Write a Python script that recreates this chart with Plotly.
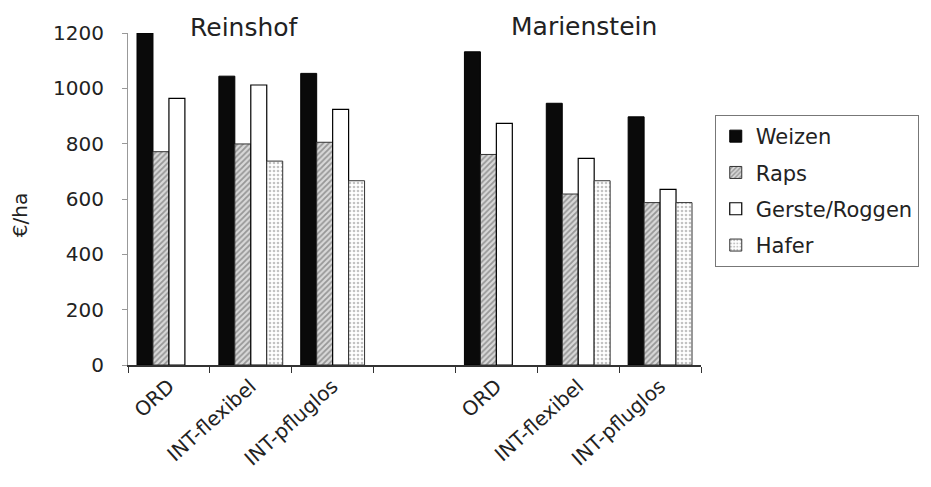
import plotly.graph_objects as go

categories = ["ORD", "INT-flexibel", "INT-pfluglos", " ", "ORD ", "INT-flexibel ", "INT-pfluglos "]
tick_labels = ["ORD", "INT-flexibel", "INT-pfluglos", "", "ORD", "INT-flexibel", "INT-pfluglos"]
weizen = [1200, 1044, 1054, None, 1132, 946, 897]
raps = [771, 799, 805, None, 761, 618, 587]
gerste = [964, 1012, 924, None, 873, 747, 635]
hafer = [None, 737, 666, None, None, 666, 587]
sites = ["Reinshof", "Marienstein"]
y_title = "€/ha"

FONT = "DejaVu Sans, Liberation Sans, Arial, sans-serif"

fig = go.Figure()
fig.add_trace(go.Bar(name="Weizen", x=categories, y=weizen, legendgroup="a",
                     marker=dict(color="#0a0a0a", line=dict(color="black", width=1))))
fig.add_trace(go.Bar(name="Raps", x=categories, y=raps, legendgroup="b",
                     marker=dict(color="white", line=dict(color="#333", width=1),
                                 pattern=dict(shape="/", fgcolor="#555", bgcolor="#d8d8d8",
                                              size=4, solidity=0.45))))
fig.add_trace(go.Bar(name="Gerste/Roggen", x=categories, y=gerste, legendgroup="c",
                     marker=dict(color="white", line=dict(color="black", width=1.2))))
fig.add_trace(go.Bar(name="Hafer", x=categories, y=hafer, legendgroup="d",
                     marker=dict(color="white", line=dict(color="#333", width=1),
                                 pattern=dict(shape=".", fgcolor="#888", bgcolor="white",
                                              size=4, solidity=0.35))))

fig.update_layout(
    width=923, height=479,
    margin=dict(l=120, r=228, t=25, b=122),
    paper_bgcolor="white", plot_bgcolor="white",
    barmode="group", bargap=0.22, bargroupgap=0,
    font=dict(family=FONT, size=20, color="#222"),
    showlegend=True,
    legend=dict(x=1.024, y=0.753, xanchor="left", yanchor="top",
                bordercolor="#777", borderwidth=1, font=dict(size=21, color="#222"),
                tracegroupgap=6, bgcolor="white"),
    xaxis=dict(type="category", categoryorder="array", categoryarray=categories,
               tickmode="array", tickvals=categories, ticktext=tick_labels,
               tickson="boundaries", ticks="outside", ticklen=6, tickcolor="#333",
               showline=True, linecolor="#333", linewidth=1.5, tickangle=-42,
               showgrid=False, tickfont=dict(size=20), range=[-0.5, 6.5],
               automargin=False),
    yaxis=dict(range=[0, 1200], tickvals=[0, 200, 400, 600, 800, 1000, 1200],
               ticks="outside", ticklen=5, tickcolor="#999", showline=True,
               linecolor="#999", linewidth=1, showgrid=False, zeroline=False,
               tickfont=dict(size=20), ticklabelstandoff=14, automargin=False),
)

fig.add_annotation(text=y_title, x=-0.188, y=0.452, xref="paper", yref="paper",
                   textangle=-90, showarrow=False, font=dict(size=20, color="#222"),
                   xanchor="center", yanchor="middle")
fig.add_annotation(text=sites[0], x=0.2035, y=1.018, xref="paper", yref="paper",
                   showarrow=False, font=dict(size=25, color="#222"),
                   xanchor="center", yanchor="middle")
fig.add_annotation(text=sites[1], x=0.7965, y=1.021, xref="paper", yref="paper",
                   showarrow=False, font=dict(size=25, color="#222"),
                   xanchor="center", yanchor="middle")

fig.write_html("out.html")
